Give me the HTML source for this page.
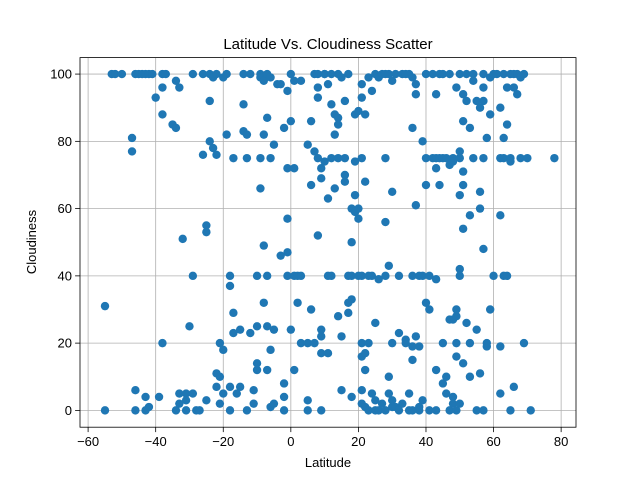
<!DOCTYPE html>
<html><head><meta charset="utf-8"><style>
body{margin:0;background:#fff}
svg{display:block;font-family:"Liberation Sans","DejaVu Sans",sans-serif}
</style></head><body>
<svg id="chart" width="640" height="480" viewBox="0 0 640 480">
<rect x="0" y="0" width="640" height="480" fill="#fff"/>
<text x="328" y="49" font-size="15" text-anchor="middle" fill="#000">Latitude Vs. Cloudiness Scatter</text>
<g id="grid"></g>
<g id="points"></g>
<rect x="80" y="57.6" width="496" height="369.6" fill="none" stroke="#000" stroke-width="0.8"/>
<g id="axes"></g>
<text x="328" y="467" font-size="13" text-anchor="middle">Latitude</text>
<text x="36" y="242" font-size="13" text-anchor="middle" transform="rotate(-90 36 242)">Cloudiness</text>
</svg>
<script>
const xTicks=[-60,-40,-20,0,20,40,60,80];
const yTicks=[0,20,40,60,80,100];
const lat=[-55,-55,-53,-52,-50,-47,-47,-46,-46,-46,-45,-44,-43,-43,-43,-42,-42,-41,-40,-39,-38,-38,-38,-38,-37,-35,-34,-34,-33,-34,-33,-33,-32,-31,-31,-31,-30,-29,-29,-29,-28,-27,-26,-26,-25,-25,-25,-24,-24,-24,-23,-23,-22,-22,-22,-22,-21,-20,-21,-21,-20,-20,-19,-19,-18,-18,-18,-18,-17,-17,-17,-16,-15,-15,-14,-14,-13,-14,-13,-13,-12,-12,-11,-11,-10,-10,-10,-10,-9,-9,-9,-9,-8,-8,-8,-8,-7,-7,-7,-7,-7,-6,-6,-6,-6,-5,-5,-5,-4,-3,-3,-2,-2,-2,-2,-1,-1,-1,-1,-1,0,0,0,1,1,1,1,2,2,3,3,3,
5,5,5,5,6,6,6,7,7,7,8,8,8,8,8,9,9,9,9,9,9,10,10,10,11,11,11,11,12,12,12,12,13,13,13,14,14,14,14,14,15,15,15,16,16,16,16,17,17,17,17,18,18,18,18,18,19,19,19,19,20,20,20,20,21,21,21,21,21,21,21,21,22,22,22,22,22,23,23,23,23,24,24,24,25,25,25,25,26,26,26,27,27,28,28,28,28,28,29,29,29,29,30,30,30,30,30,31,31,32,32,32,33,33,34,34,34,35,35,35,36,36,36,36,36,36,37,37,37,37,38,38,38,38,39,39,39,40,40,40,40,41,41,41,42,42,43,43,43,43,43,43,44,44,44,45,45,45,45,46,46,46,47,47,47,47,48,48,48,48,48,49,49,49,49,49,49,50,50,50,50,50,50,50,51,51,51,51,51,51,52,52,52,53,53,53,53,54,54,54,55,55,55,56,56,56,56,57,57,57,57,57,57,58,58,58,59,59,59,60,60,61,62,62,62,62,62,63,63,63,63,64,64,64,65,65,65,65,66,66,66,67,67,68,68,69,69,70,71,78];
const cloud=[31,0,100,100,100,81,77,100,6,0,100,100,100,4,0,1,100,100,93,4,88,20,96,100,100,85,84,98,96,0,2,5,51,5,0,3,25,40,100,5,0,0,100,76,55,53,3,92,80,100,99,78,100,76,11,7,10,99,20,2,18,5,82,100,40,37,7,0,75,29,23,5,24,7,91,83,82,100,75,0,100,23,6,2,25,40,12,14,100,99,75,66,49,32,82,98,87,40,25,12,100,75,99,18,1,2,24,79,97,97,46,84,8,4,0,72,95,57,40,47,86,24,100,12,40,72,98,32,40,98,40,20,
79,0,3,20,30,86,67,77,100,20,52,96,100,93,75,0,22,17,69,72,24,100,100,74,63,97,17,40,91,75,40,100,88,82,66,100,85,75,87,28,6,22,99,92,75,70,68,100,29,40,32,33,50,60,40,4,88,74,64,59,60,40,89,57,97,93,75,40,20,16,6,2,88,68,17,12,1,99,40,20,0,95,5,40,100,26,3,0,39,99,0,100,2,100,75,56,40,0,10,43,5,100,65,98,20,1,3,100,1,40,23,0,100,2,21,20,100,100,5,0,99,40,84,15,19,0,97,61,22,94,40,1,0,19,80,40,3,32,67,100,75,30,40,0,75,100,75,94,72,39,12,0,67,100,75,75,100,20,8,75,10,5,27,100,73,0,75,74,27,4,2,96,30,28,20,16,0,100,77,75,64,42,40,2,94,86,71,67,54,14,92,100,26,58,84,10,20,100,98,75,92,24,0,90,65,60,11,100,96,92,75,48,0,81,19,20,99,88,30,100,40,100,90,75,58,19,5,100,81,75,40,85,96,40,75,0,100,74,100,96,7,100,94,99,75,100,20,75,0,75];
const NS='http://www.w3.org/2000/svg';
const X0=80,X1=576,Y0=427.2,Y1=57.6,xmin=-62.4,xmax=84.4,ymin=-5,ymax=104.9;
function sx(v){return X0+(v-xmin)/(xmax-xmin)*(X1-X0);}
function sy(v){return Y0-(v-ymin)/(ymax-ymin)*(Y0-Y1);}
function mk(t,a){const e=document.createElementNS(NS,t);for(const k in a)e.setAttribute(k,a[k]);return e;}
const grid=document.getElementById('grid'),axes=document.getElementById('axes'),pts=document.getElementById('points');
xTicks.forEach(t=>{const x=sx(t);
 const g=mk('line',{x1:x,x2:x,y1:Y1,y2:Y0,stroke:'#b0b0b0','stroke-width':0.8});
 
 
 grid.appendChild(g);
 const tk=mk('line',{x1:x,x2:x,y1:Y0,y2:Y0+4.9,stroke:'#000','stroke-width':0.8});
 
 
 axes.appendChild(tk);
 const tx=mk('text',{x:x,y:Y0+19,'font-size':13,'text-anchor':'middle'});
 
 
 tx.textContent=t<0?'\u2212'+(-t):t;axes.appendChild(tx);});
yTicks.forEach(t=>{const y=sy(t);
 const g=mk('line',{x1:X0,x2:X1,y1:y,y2:y,stroke:'#b0b0b0','stroke-width':0.8});
 
 
 grid.appendChild(g);
 const tk=mk('line',{x1:X0-4.9,x2:X0,y1:y,y2:y,stroke:'#000','stroke-width':0.8});
 
 
 axes.appendChild(tk);
 const tx=mk('text',{x:X0-8,y:y+4.5,'font-size':13,'text-anchor':'end'});
 
 
 tx.textContent=t;axes.appendChild(tx);});
for(let i=0;i<lat.length;i++){
 const c=mk('circle',{cx:sx(lat[i]),cy:sy(cloud[i]),r:4.2,fill:'#1f77b4'});
 
 
 pts.appendChild(c);}
</script>
</body></html>
